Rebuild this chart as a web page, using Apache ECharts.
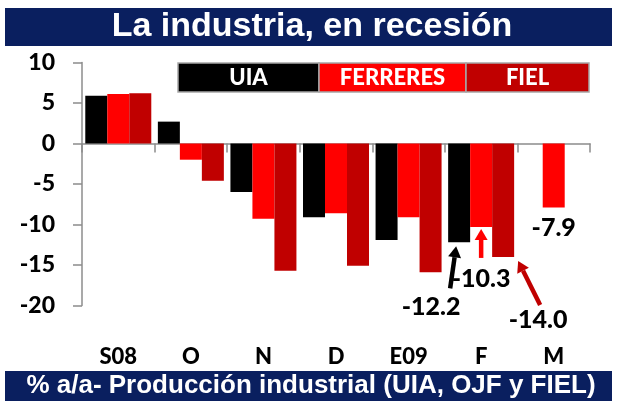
<!DOCTYPE html>
<html>
<head>
<meta charset="utf-8">
<script src="https://cdn.jsdelivr.net/npm/echarts@6/dist/echarts.min.js"></script>
<style>
  html, body { margin: 0; padding: 0; background: #fff; }
  #chart { width: 618px; height: 401px; }
</style>
</head>
<body>
<div id="chart"></div>
<script>
  // data
  var categories = ['S08', 'O', 'N', 'D', 'E09', 'F', 'M']
  var uia = [5.9, 2.7, -6.0, -9.1, -11.9, -12.2, null]
  var ferreres = [6.1, -2.0, -9.3, -8.6, -9.1, -10.3, -7.9]
  var fiel = [6.2, -4.6, -15.7, -15.1, -15.9, -14.0, null]
  var yTicks = [-20, -15, -10, -5, 0, 5, 10]
  var seriesNames = ['UIA', 'FERRERES', 'FIEL']
  var colors = ['#000000', '#ff0000', '#c00000']

  var font = 'Lato, "Open Sans", sans-serif'
  var barWidth = 22

  // which points carry a value label, with their label placement
  var labelled = {
    0: { 5: { offset: [-28, 46] } },
    1: { 5: { offset: [0, 34] }, 6: { offset: [0, 2] } },
    2: { 5: { offset: [35, 45] } }
  }

  function buildData (values, idx) {
    return values.map(function (v, i) {
      if (v === null) return '-'
      var lab = labelled[idx] && labelled[idx][i]
      if (!lab) return v
      return {
        value: v,
        label: {
          show: true,
          position: 'bottom',
          distance: 6,
          offset: lab.offset,
          formatter: function (p) { return p.value.toFixed(1) },
          color: '#000',
          fontFamily: font,
          fontWeight: 900,
          fontSize: 25
        }
      }
    })
  }

  var allValues = [uia, ferreres, fiel]
  var series = allValues.map(function (vals, idx) {
    return {
      name: seriesNames[idx],
      type: 'bar',
      barWidth: barWidth,
      barGap: '0%',
      itemStyle: { color: colors[idx] },
      data: buildData(vals, idx)
    }
  })

  function legendBox (x, w, text, color) {
    return {
      type: 'rect',
      shape: { x: x, y: 63, width: w, height: 29 },
      style: { fill: color, stroke: '#a6a6a6', lineWidth: 1.5 },
      textContent: {
        style: { text: text, fill: '#fff', font: '900 22px ' + font }
      },
      textConfig: { position: 'inside' }
    }
  }

  var graphics = [
    {
      type: 'rect',
      shape: { x: 5, y: 8, width: 607, height: 38 },
      style: { fill: '#0a1f5f' }
    },
    {
      type: 'text',
      x: 312, y: 27,
      style: {
        text: 'La industria, en recesión',
        fill: '#fff',
        font: 'bold 34px "Liberation Sans", Arial, sans-serif',
        textAlign: 'center',
        textVerticalAlign: 'middle'
      }
    },
    {
      type: 'rect',
      shape: { x: 5, y: 371, width: 607, height: 30 },
      style: { fill: '#0a1f5f' }
    },
    {
      type: 'text',
      x: 311, y: 386,
      style: {
        text: '% a/a- Producción industrial (UIA, OJF y FIEL)',
        fill: '#fff',
        font: 'bold 26px "Liberation Sans", Arial, sans-serif',
        textAlign: 'center',
        textVerticalAlign: 'middle'
      }
    },
    legendBox(178, 141, 'UIA', colors[0]),
    legendBox(319, 147, 'FERRERES', colors[1]),
    legendBox(466, 123, 'FIEL', colors[2])
  ]

  var option = {
    animation: false,
    backgroundColor: '#fff',
    grid: { left: 82, right: 28, top: 62.5, bottom: 95.5 },
    xAxis: [
      {
        type: 'category',
        data: categories,
        axisLine: { onZero: true, lineStyle: { color: '#8c8c8c', width: 1.5 } },
        axisTick: { show: true, length: 9, lineStyle: { color: '#8c8c8c', width: 1.5 } },
        axisLabel: { show: false }
      },
      {
        type: 'category',
        data: categories,
        position: 'bottom',
        axisLine: { show: false, onZero: false },
        axisTick: { show: false },
        axisLabel: {
          margin: 40,
          color: '#000',
          fontFamily: font,
          fontWeight: 900,
          fontSize: 22
        }
      }
    ],
    yAxis: {
      type: 'value',
      min: yTicks[0],
      max: yTicks[yTicks.length - 1],
      interval: 5,
      axisLine: { show: true, lineStyle: { color: '#8c8c8c', width: 1.5 } },
      axisTick: { show: true, length: 9, lineStyle: { color: '#8c8c8c', width: 1.5 } },
      splitLine: { show: false },
      axisLabel: {
        margin: 27,
        color: '#000',
        fontFamily: font,
        fontWeight: 900,
        fontSize: 23
      }
    },
    series: series,
    graphic: graphics
  }

  var chart = echarts.init(document.getElementById('chart'))
  chart.setOption(option)

  // arrows pointing at the last readings, anchored on the bars' ends
  function arrow (idx, cat, dx1, dy1, dx2, dy2, color) {
    var p = chart.convertToPixel({ xAxisIndex: 0, yAxisIndex: 0 }, [cat, allValues[idx][cat]])
    var cx = p[0] + (idx - 1) * barWidth
    var x1 = cx + dx1, y1 = p[1] + dy1
    var x2 = cx + dx2, y2 = p[1] + dy2
    var ang = Math.atan2(y2 - y1, x2 - x1)
    var len = 11, half = 6.5
    var bx = x2 - len * Math.cos(ang), by = y2 - len * Math.sin(ang)
    var nx = -Math.sin(ang) * half, ny = Math.cos(ang) * half
    return [
      {
        type: 'line',
        shape: { x1: x1, y1: y1, x2: bx, y2: by },
        style: { stroke: color, lineWidth: 4.5 }
      },
      {
        type: 'polygon',
        shape: { points: [[x2, y2], [bx + nx, by + ny], [bx - nx, by - ny]] },
        style: { fill: color }
      }
    ]
  }

  var arrows = [].concat(
    arrow(0, 5, -9, 46, -3, 4, colors[0]),
    arrow(1, 5, 0, 31, 0, 2, colors[1]),
    arrow(2, 5, 37, 48, 15, 4, colors[2])
  )
  chart.setOption({ graphic: graphics.concat(arrows) })
</script>
</body>
</html>
